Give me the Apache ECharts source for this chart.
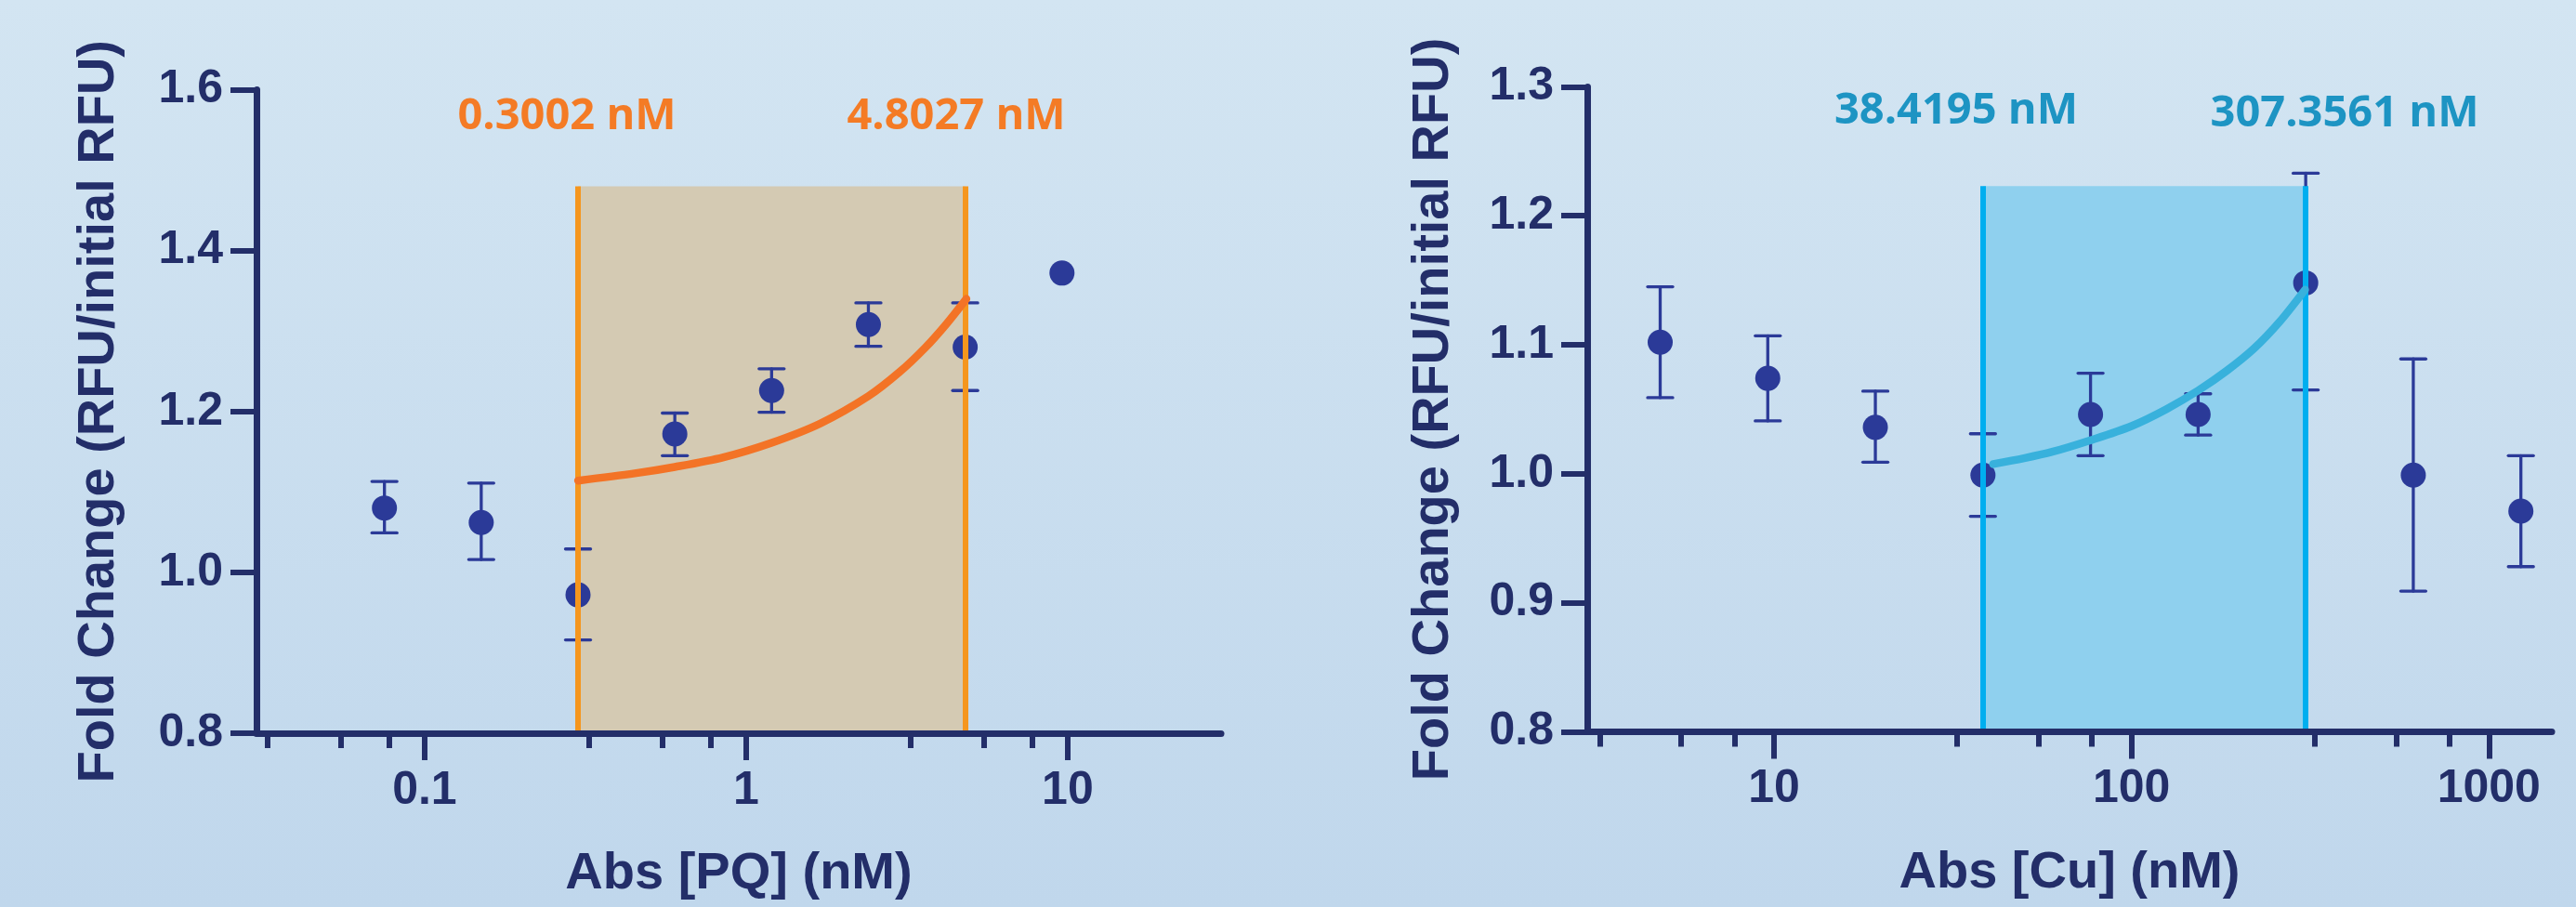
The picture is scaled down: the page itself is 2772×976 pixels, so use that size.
<!DOCTYPE html>
<html>
<head>
<meta charset="utf-8">
<script src="https://cdn.jsdelivr.net/npm/echarts@6/dist/echarts.min.js"></script>
<style>
  html, body { margin: 0; padding: 0; }
  #chart { width: 2772px; height: 976px; }
</style>
</head>
<body>
<div id="chart"></div>
<script>
// ---------- Data ----------
// Left panel: PQ
const pqConc = [0.075, 0.15, 0.3, 0.6, 1.2, 2.4, 4.8, 9.6];
const pqMean = [1.080, 1.062, 0.972, 1.172, 1.226, 1.308, 1.280, 1.372];
const pqLow  = [1.049, 1.016, 0.916, 1.145, 1.199, 1.281, 1.226, null];
const pqHigh = [1.113, 1.111, 1.029, 1.198, 1.253, 1.335, 1.335, null];
const pqFitX = [0.3002, 0.45, 0.6, 0.85, 1.2, 1.7, 2.4, 3.0, 3.6, 4.2, 4.84];
const pqFitY = [1.114, 1.123, 1.131, 1.143, 1.161, 1.185, 1.219, 1.249, 1.279, 1.309, 1.340];
const pqBandX = [0.3002, 4.8027];
const pqBandY = [0.8, 1.48];
const pqBandLabels = ['0.3002 nM', '4.8027 nM'];
const pqXTicks = [0.1, 1, 10];

// Right panel: Cu
const cuConc = [4.8, 9.6, 19.2, 38.4, 76.8, 153.6, 307.2, 614.4, 1228.8];
const cuMean = [1.102, 1.074, 1.036, 0.999, 1.046, 1.046, 1.148, 0.999, 0.971];
const cuLow  = [1.059, 1.041, 1.009, 0.967, 1.014, 1.030, 1.065, 0.909, 0.928];
const cuHigh = [1.145, 1.107, 1.064, 1.031, 1.078, 1.062, 1.233, 1.089, 1.014];
const cuFitX = [41, 50, 60, 76.8, 100, 125, 153.6, 185, 220, 260, 305.9];
const cuFitY = [1.0075, 1.012, 1.017, 1.026, 1.037, 1.050, 1.0645, 1.080, 1.097, 1.118, 1.1427];
const cuBandX = [38.4195, 307.3561];
const cuBandY = [0.8, 1.223];
const cuBandLabels = ['38.4195 nM', '307.3561 nM'];
const cuXTicks = [10, 100, 1000];

// ---------- Styles ----------
const AXIS = '#232E69';
const PT = '#2B3A98';
const ORANGE_TXT = '#F47B25';
const ORANGE_LINE = '#F5961E';
const ORANGE_FIT = '#F37326';
const TAN = '#D4CAB3';
const CYAN_TXT = '#1D94C3';
const CYAN_LINE = '#00AEEF';
const CYAN_FIT = '#38B1DC';
const CYAN_FILL = '#8FD0EE';
const FONT = '"Liberation Sans", Arial, Helvetica, sans-serif';

const chart = echarts.init(document.getElementById('chart'), null, { renderer: 'canvas' });

function zip(a, b) { return a.map((v, i) => [v, b[i]]); }
function errData(x, lo, hi) {
  const out = [];
  x.forEach((v, i) => { if (lo[i] != null && hi[i] != null) out.push([v, lo[i], hi[i]]); });
  return out;
}

function xAxisCfg(grid, min, max, ticks, name, gap) {
  return {
    type: 'log', logBase: 10, gridIndex: grid, min: min, max: max, z: 10,
    name: name, nameLocation: 'middle', nameGap: gap,
    nameTextStyle: { color: AXIS, fontFamily: FONT, fontWeight: 'bold', fontSize: 56 },
    axisLine: { show: true, lineStyle: { color: AXIS, width: 7 } },
    axisTick: { show: true, length: 29, customValues: ticks, lineStyle: { color: AXIS, width: 6 } },
    minorTick: { show: true, splitNumber: 4, length: 16, lineStyle: { color: AXIS, width: 6 } },
    axisLabel: { customValues: ticks, margin: 37, color: AXIS, fontFamily: FONT, fontWeight: 'bold', fontSize: 50,
      formatter: v => String(v) },
    splitLine: { show: false }, minorSplitLine: { show: false }
  };
}
function yAxisCfg(grid, min, max, interval, name, gap) {
  return {
    type: 'value', gridIndex: grid, min: min, max: max, interval: interval, z: 10,
    name: name, nameLocation: 'middle', nameGap: gap,
    nameTextStyle: { color: AXIS, fontFamily: FONT, fontWeight: 'bold', fontSize: 56 },
    axisLine: { show: true, lineStyle: { color: AXIS, width: 7 } },
    axisTick: { show: true, length: 28, lineStyle: { color: AXIS, width: 6 } },
    axisLabel: { margin: 36, color: AXIS, fontFamily: FONT, fontWeight: 'bold', fontSize: 50,
      formatter: v => v.toFixed(1) },
    splitLine: { show: false }
  };
}

function bandSeries(idx, bx, by, fill, lineColor) {
  return {
    type: 'line', xAxisIndex: idx, yAxisIndex: idx, data: [], z: 1, silent: true,
    markArea: { silent: true, itemStyle: { color: fill },
      data: [[{ coord: [bx[0], by[0]] }, { coord: [bx[1], by[1]] }]] },
    markLine: { silent: true, symbol: ['none', 'none'], label: { show: false },
      lineStyle: { color: lineColor, width: 6, type: 'solid' },
      data: [
        [{ coord: [bx[0], by[0]] }, { coord: [bx[0], by[1]] }],
        [{ coord: [bx[1], by[0]] }, { coord: [bx[1], by[1]] }]
      ] }
  };
}
function errSeries(idx, data) {
  return {
    type: 'custom', xAxisIndex: idx, yAxisIndex: idx, data: data, z: 3, silent: true,
    renderItem: function (params, api) {
      const x = api.value(0);
      const pLo = api.coord([x, api.value(1)]);
      const pHi = api.coord([x, api.value(2)]);
      const h = 13.5;
      const st = { stroke: PT, lineWidth: 3.3, lineCap: 'round' };
      return { type: 'group', children: [
        { type: 'line', shape: { x1: pLo[0], y1: pLo[1], x2: pHi[0], y2: pHi[1] }, style: st },
        { type: 'line', shape: { x1: pLo[0] - h, y1: pLo[1], x2: pLo[0] + h, y2: pLo[1] }, style: st },
        { type: 'line', shape: { x1: pHi[0] - h, y1: pHi[1], x2: pHi[0] + h, y2: pHi[1] }, style: st }
      ] };
    }
  };
}
function pointSeries(idx, data) {
  return { type: 'scatter', xAxisIndex: idx, yAxisIndex: idx, data: data, z: 4,
    symbol: 'circle', symbolSize: 27, itemStyle: { color: PT, opacity: 1 }, silent: true };
}
function fitSeries(idx, data, color) {
  return { type: 'line', xAxisIndex: idx, yAxisIndex: idx, data: data, z: 5,
    smooth: 0.3,
    showSymbol: false, symbol: 'none', silent: true,
    lineStyle: { color: color, width: 8.5, cap: 'round', join: 'round' } };
}
function bandText(x, y, text, color) {
  return { type: 'text', x: x, y: y, z: 20,
    style: { text: text, fill: color, font: 'bold 47px "Open Sans", "Noto Sans", sans-serif',
      align: 'center', verticalAlign: 'middle' } };
}

const option = {
  animation: false,
  backgroundColor: new echarts.graphic.LinearGradient(0, 0, 0, 1, [
    { offset: 0, color: '#D3E5F2' }, { offset: 1, color: '#C0D7EC' }
  ]),
  grid: [
    { left: 276, top: 96.5, width: 1038, height: 692.5 },
    { left: 1708, top: 93.4, width: 1038, height: 694 }
  ],
  xAxis: [
    xAxisCfg(0, 0.03, 30, pqXTicks, 'Abs [PQ] (nM)', 124),
    xAxisCfg(1, 3, 1500, cuXTicks, 'Abs [Cu] (nM)', 124)
  ],
  yAxis: [
    yAxisCfg(0, 0.8, 1.6, 0.2, 'Fold Change (RFU/initial RFU)', 141),
    yAxisCfg(1, 0.8, 1.3, 0.1, 'Fold Change (RFU/initial RFU)', 137)
  ],
  graphic: [
    bandText(610, 126, pqBandLabels[0], ORANGE_TXT),
    bandText(1029, 126, pqBandLabels[1], ORANGE_TXT),
    bandText(2105, 120, cuBandLabels[0], CYAN_TXT),
    bandText(2523, 123, cuBandLabels[1], CYAN_TXT)
  ],
  series: [
    bandSeries(0, pqBandX, pqBandY, TAN, ORANGE_LINE),
    errSeries(0, errData(pqConc, pqLow, pqHigh)),
    pointSeries(0, zip(pqConc, pqMean)),
    fitSeries(0, zip(pqFitX, pqFitY), ORANGE_FIT),
    bandSeries(1, cuBandX, cuBandY, CYAN_FILL, CYAN_LINE),
    errSeries(1, errData(cuConc, cuLow, cuHigh)),
    pointSeries(1, zip(cuConc, cuMean)),
    fitSeries(1, zip(cuFitX, cuFitY), CYAN_FIT)
  ]
};
chart.setOption(option);
</script>
</body>
</html>
